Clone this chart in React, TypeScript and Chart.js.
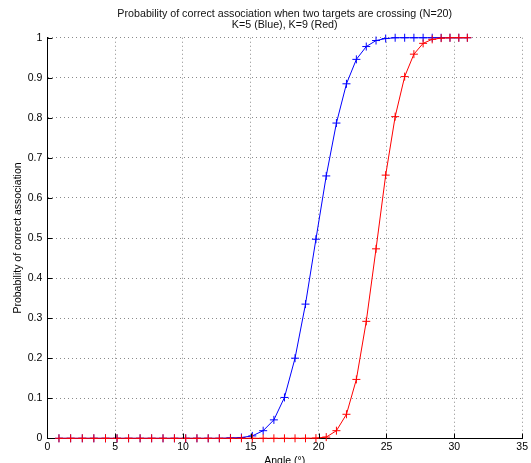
import React, { useEffect, useRef } from "react";
import { Chart, registerables } from "chart.js";

Chart.register(...registerables);

// Angle (degrees) of each sample point
const angles = [
  0.86, 1.72, 2.58, 3.43, 4.29, 5.14, 5.99, 6.84, 7.69, 8.53,
  9.37, 10.2, 11.03, 11.86, 12.68, 13.5, 14.31, 15.11, 15.91, 16.7,
  17.48, 18.26, 19.03, 19.8, 20.56, 21.31, 22.05, 22.78, 23.51, 24.23,
  24.94, 25.64, 26.34, 27.02, 27.7, 28.37, 29.03, 29.68, 30.33, 30.96,
];

// K=5 (Blue)
const blueK5 = [
  0, 0, 0, 0, 0, 0, 0, 0, 0, 0,
  0, 0, 0, 0, 0, 0.001, 0.002, 0.006, 0.019, 0.046,
  0.102, 0.2, 0.335, 0.497, 0.655, 0.787, 0.885, 0.946, 0.978, 0.993,
  0.998, 1, 1, 1, 1, 1, 1, 1, 1, 1,
];

// K=9 (Red)
const redK9 = [
  0, 0, 0, 0, 0, 0, 0, 0, 0, 0,
  0, 0, 0, 0, 0, 0, 0, 0, 0, 0,
  0, 0, 0, 0.0005, 0.003, 0.019, 0.06, 0.147, 0.292, 0.473,
  0.657, 0.803, 0.903, 0.959, 0.986, 0.996, 0.999, 1, 1, 1,
];

const titleLines = [
  "Probability of correct association when two targets are crossing (N=20)",
  "K=5 (Blue), K=9 (Red)",
];
const xTitle = "Angle (°)";
const yTitle = "Probability of correct association";

const FONT = "'Liberation Sans', Arial, Helvetica, sans-serif";

export default function App() {
  const ref = useRef<HTMLCanvasElement>(null);

  useEffect(() => {
    if (!ref.current) return;
    const inwardTicks = {
      id: "inwardTicks",
      afterDatasetsDraw(chart: any) {
        const { ctx, chartArea, scales } = chart;
        const x = scales.x;
        const y = scales.y;
        ctx.save();
        ctx.strokeStyle = "#000";
        ctx.lineWidth = 1;
        ctx.beginPath();
        x.ticks.forEach((t: any) => {
          const px = Math.round(x.getPixelForValue(t.value)) + 0.5;
          const by = Math.round(chartArea.bottom) + 0.5;
          ctx.moveTo(px, by);
          ctx.lineTo(px, by - 5);
        });
        y.ticks.forEach((t: any) => {
          const py = Math.round(y.getPixelForValue(t.value)) + 0.5;
          const lx = Math.round(chartArea.left) + 0.5;
          ctx.moveTo(lx, py);
          ctx.lineTo(lx + 5, py);
        });
        ctx.stroke();
        ctx.restore();
      },
    };

    const mk = (vals: number[], color: string, order: number) => ({
      data: angles.map((a, i) => ({ x: a, y: vals[i] })),
      borderColor: color,
      backgroundColor: color,
      borderWidth: 1,
      pointStyle: "cross" as const,
      pointRadius: 4,
      pointBorderWidth: 1,
      pointBorderColor: color,
      pointHoverRadius: 4,
      tension: 0,
      fill: false,
      clip: false as const,
      order,
    });

    const chart = new Chart(ref.current, {
      type: "line",
      data: {
        datasets: [mk(blueK5, "#0000ff", 2), mk(redK9, "#ff0000", 1)],
      },
      options: {
        responsive: false,
        animation: false,
        devicePixelRatio: 1,
        events: [],
        layout: { padding: { left: 0, right: 7.7, top: 0, bottom: 0 } },
        plugins: {
          legend: { display: false },
          tooltip: { enabled: false },
          title: {
            display: true,
            fullSize: false,
            text: titleLines,
            color: "#111",
            font: { family: FONT, size: 10.7, weight: "normal", lineHeight: 1.03 },
            padding: { top: 8.5, bottom: 7.2 },
          },
        },
        scales: {
          x: {
            type: "linear",
            min: 0,
            max: 35,
            ticks: {
              stepSize: 5,
              color: "#000",
              font: { family: FONT, size: 10.5 },
              padding: 3,
              maxRotation: 0,
            },
            grid: { color: "#8a8a8a", drawTicks: false, lineWidth: 1 },
            border: { display: true, color: "#000", width: 1, dash: [1, 3] },
            title: {
              display: true,
              text: xTitle,
              color: "#000",
              font: { family: FONT, size: 10.5 },
              padding: { top: 0, bottom: -4.8 },
            },
            afterFit: (s: any) => {
              s.height = 24.7;
            },
          },
          y: {
            type: "linear",
            min: 0,
            max: 1,
            ticks: {
              stepSize: 0.1,
              color: "#000",
              font: { family: FONT, size: 10.5 },
              padding: 5,
              callback: (v: any) => String(Number(Number(v).toFixed(1))),
            },
            grid: { color: "#8a8a8a", drawTicks: false, lineWidth: 1 },
            border: { display: true, color: "#000", width: 1, dash: [1, 3] },
            title: {
              display: true,
              text: yTitle,
              color: "#000",
              font: { family: FONT, size: 10.5 },
              padding: { top: 11.5, bottom: 0 },
            },
            afterFit: (s: any) => {
              s.width = 47.3;
            },
          },
        },
      },
      plugins: [inwardTicks],
    } as any);

    return () => chart.destroy();
  }, []);

  return (
    <div style={{ position: "absolute", left: 0, top: 0, width: 531, height: 463 }}>
      <canvas ref={ref} width={531} height={463} style={{ display: "block" }} />
    </div>
  );
}
